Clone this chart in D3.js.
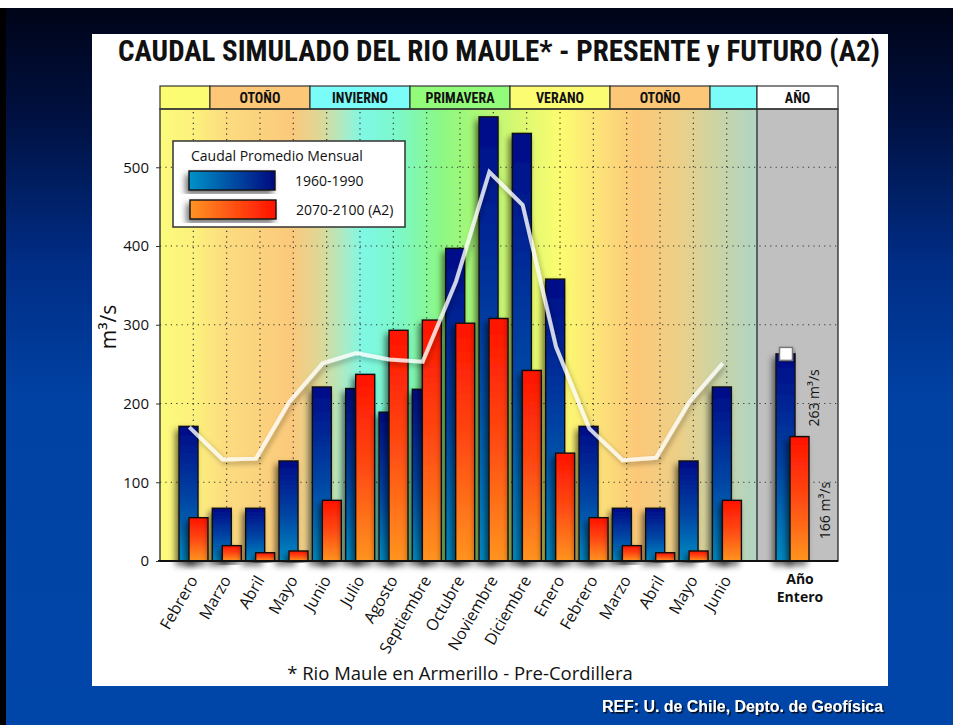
<!DOCTYPE html>
<html>
<head>
<meta charset="utf-8">
<script src="https://cdn.jsdelivr.net/npm/d3@7"></script>
<style>
  html, body { margin: 0; padding: 0; background: #fff; }
  svg { display: block; }
</style>
</head>
<body>
<svg id="chart" width="953" height="725"></svg>
<script>
(()=>{

//data
const months = ["Febrero","Marzo","Abril","Mayo","Junio","Julio","Agosto","Septiembre","Octubre","Noviembre","Diciembre","Enero","Febrero","Marzo","Abril","Mayo","Junio"];
const presente = [171,67,67,127,221,219,189,218,397,564,543,358,171,67,67,127,221];
const futuro = [55,19.5,10.5,12.7,77,237,293,306,302,308,242,137,55,19.5,10.5,12.7,77];
const promedio = [170,129,130,202,251,264,256,253,355,494,452,272,168,128,131,202,251];
const annual = [263, 158];
const annualLabels = ["263 m³/s", "166 m³/s"];
const yTicks = [0,100,200,300,400,500];
//season header: label and span in months (first/last index)
const seasons = [
	{label:"", from:0, to:0, color:"#fcfc72"},
	{label:"OTOÑO", from:1, to:3, color:"#fcc878"},
	{label:"INVIERNO", from:4, to:6, color:"#7afcf8"},
	{label:"PRIMAVERA", from:7, to:9, color:"#92fc7a"},
	{label:"VERANO", from:10, to:12, color:"#fcfc72"},
	{label:"OTOÑO", from:13, to:15, color:"#fcc878"},
	{label:"", from:16, to:16, color:"#7afcf8"}
];
const legendLabels = ["1960-1990", "2070-2100 (A2)"];

//background colour stops of the plot (offset along x)
const bgStops = [
	[0,"#fcfb7c"],[0.06,"#fcf07c"],[0.11,"#fcdc80"],[0.22,"#fbc97b"],[0.27,"#dcd898"],
	[0.31,"#a8ecc8"],[0.34,"#7ef8e4"],[0.40,"#7cf8c8"],[0.47,"#8cf884"],[0.52,"#a4f878"],
	[0.60,"#d8f870"],[0.67,"#fcfc70"],[0.74,"#fce078"],[0.80,"#fcc878"],[0.87,"#ecd088"],
	[0.94,"#c8d4a8"],[1,"#b0d4c4"]
];

let svg = d3.select("#chart"),
	W = +svg.attr("width"),
	H = +svg.attr("height");

const plot = {left:160, right:757, yearRight:838, top:109, bottom:561, headTop:86};
const sans = "'Open Sans', 'Noto Sans', sans-serif";
const narrow = "'Liberation Sans Narrow', 'Roboto Condensed', 'DejaVu Sans Condensed', 'Liberation Sans', sans-serif";

let x = d3.scalePoint().domain(d3.range(months.length)).range([193.3, 726.7]);
let step = x.step();
let y = d3.scaleLinear().domain([0, 574]).range([plot.bottom, plot.top]);
const yearX = 792;

let defs = svg.append("defs");

//slide background
let slide = defs.append("linearGradient").attr("id","slide").attr("x1",0).attr("y1",0).attr("x2",0).attr("y2",1);
[[0,"#000418"],[0.15,"#001040"],[0.35,"#002c84"],[0.55,"#0042a4"],[1,"#0046a8"]].forEach(s=>{
	slide.append("stop").attr("offset",s[0]).attr("stop-color",s[1]);
});
let bg = defs.append("linearGradient").attr("id","bg").attr("x1",0).attr("y1",0).attr("x2",1).attr("y2",0);
bgStops.forEach(s=>{ bg.append("stop").attr("offset",s[0]).attr("stop-color",s[1]); });

function grad(id, vertical, stops){
	let g = defs.append("linearGradient").attr("id",id)
		.attr("x1",0).attr("y1",vertical?1:0).attr("x2",vertical?0:1).attr("y2",0);
	stops.forEach(s=>{ g.append("stop").attr("offset",s[0]).attr("stop-color",s[1]); });
}
grad("blueV", true, [[0,"#008cc4"],[0.45,"#0046a4"],[1,"#000a88"]]);
grad("redV", true, [[0,"#ff9420"],[0.5,"#ff4a12"],[1,"#ff1200"]]);
grad("blueH", false, [[0,"#0092c8"],[1,"#000a80"]]);
grad("redH", false, [[0,"#ff9424"],[1,"#ff1000"]]);

let shadow = defs.append("filter").attr("id","shadow").attr("x","-60%").attr("y","-20%").attr("width","220%").attr("height","140%");
shadow.append("feDropShadow").attr("dx",-3).attr("dy",4).attr("stdDeviation",3).attr("flood-color","#000").attr("flood-opacity",0.55);
let soft = defs.append("filter").attr("id","soft").attr("x","-20%").attr("y","-20%").attr("width","140%").attr("height","140%");
soft.append("feDropShadow").attr("dx",2).attr("dy",3).attr("stdDeviation",2.5).attr("flood-color","#000").attr("flood-opacity",0.35);
let txtShadow = defs.append("filter").attr("id","txtShadow");
txtShadow.append("feDropShadow").attr("dx",1.5).attr("dy",1.5).attr("stdDeviation",0.6).attr("flood-color","#000").attr("flood-opacity",0.9);

svg.append("rect").attr("width",W).attr("height",H).attr("fill","#fff");
svg.append("rect").attr("x",0).attr("y",8).attr("width",W).attr("height",H-8).attr("fill","#000");
svg.append("rect").attr("x",6).attr("y",8).attr("width",W-6).attr("height",H-8).attr("fill","url(#slide)");
svg.append("rect").attr("x",92).attr("y",34).attr("width",796).attr("height",652).attr("fill","#fff");

//title
svg.append("text")
	.attr("x",118).attr("y",61)
	.attr("textLength",762).attr("lengthAdjust","spacingAndGlyphs")
	.style("font-family",narrow).style("font-weight","bold").style("font-size","30px")
	.attr("fill","#111")
	.text("CAUDAL SIMULADO DEL RIO MAULE* - PRESENTE y FUTURO (A2)");

//plot backgrounds
svg.append("rect").attr("x",plot.left).attr("y",plot.top)
	.attr("width",plot.right-plot.left).attr("height",plot.bottom-plot.top).attr("fill","url(#bg)");
svg.append("rect").attr("x",plot.right).attr("y",plot.top)
	.attr("width",plot.yearRight-plot.right).attr("height",plot.bottom-plot.top).attr("fill","#c0c0c0");

//season header
let edge = i => x(i) - step/2;
let head = svg.append("g");
head.selectAll(".season")
	.data(seasons)
	.enter().append("rect")
	.attr("class","season")
	.attr("x", d => d.from===0 ? plot.left : edge(d.from))
	.attr("y", plot.headTop)
	.attr("width", d => (d.to===months.length-1 ? plot.right : edge(d.to+1)) - (d.from===0 ? plot.left : edge(d.from)))
	.attr("height", plot.top-plot.headTop)
	.attr("fill", d => d.color)
	.attr("stroke","#333").attr("stroke-width",1.2);
head.append("rect").attr("x",plot.right).attr("y",plot.headTop)
	.attr("width",plot.yearRight-plot.right).attr("height",plot.top-plot.headTop)
	.attr("fill","#fff").attr("stroke","#333").attr("stroke-width",1.2);
head.selectAll(".slabel")
	.data(seasons.filter(d=>d.label))
	.enter().append("text")
	.attr("class","slabel")
	.attr("x", d => (x(d.from)+x(d.to))/2)
	.attr("y", plot.headTop+16.5)
	.attr("text-anchor","middle")
	.style("font-family",narrow).style("font-weight","bold").style("font-size","14px")
	.attr("fill","#111")
	.text(d => d.label);
head.append("text")
	.attr("x",(plot.right+plot.yearRight)/2).attr("y",plot.headTop+16.5)
	.attr("text-anchor","middle")
	.style("font-family",narrow).style("font-weight","bold").style("font-size","14px")
	.attr("fill","#111").text("AÑO");

//dotted grid
let grid = svg.append("g").attr("stroke","#333").attr("stroke-width",1.2).attr("stroke-dasharray","1.2,4.2");
grid.selectAll(".hgrid")
	.data(yTicks.slice(1))
	.enter().append("line")
	.attr("class","hgrid")
	.attr("x1",plot.left).attr("x2",plot.yearRight)
	.attr("y1", d => y(d)).attr("y2", d => y(d));
grid.selectAll(".vgrid")
	.data(d3.range(months.length))
	.enter().append("line")
	.attr("class","vgrid")
	.attr("x1", d => x(d)).attr("x2", d => x(d))
	.attr("y1",plot.top+3).attr("y2",plot.bottom);

//bars
const bw = 19;
let bars = svg.append("g");
months.forEach((m,i)=>{
	bars.append("rect")
		.attr("x", x(i)-14.3).attr("y", y(presente[i]))
		.attr("width", bw).attr("height", y(0)-y(presente[i]))
		.attr("fill","url(#blueV)").attr("stroke","#111").attr("stroke-width",1.4)
		.attr("filter","url(#shadow)");
	bars.append("rect")
		.attr("x", x(i)-4.3).attr("y", y(futuro[i]))
		.attr("width", bw).attr("height", y(0)-y(futuro[i]))
		.attr("fill","url(#redV)").attr("stroke","#111").attr("stroke-width",1.4)
		.attr("filter","url(#shadow)");
});
//annual bars
bars.append("rect")
	.attr("x", yearX-16).attr("y", y(annual[0]))
	.attr("width", bw).attr("height", y(0)-y(annual[0]))
	.attr("fill","url(#blueV)").attr("stroke","#111").attr("stroke-width",1.4)
	.attr("filter","url(#shadow)");
bars.append("rect")
	.attr("x", yearX-2).attr("y", y(annual[1]))
	.attr("width", bw).attr("height", y(0)-y(annual[1]))
	.attr("fill","url(#redV)").attr("stroke","#111").attr("stroke-width",1.4)
	.attr("filter","url(#shadow)");

//mean line
let line = d3.line().x((d,i)=>x(i)-4).y(d=>y(d));
svg.append("path")
	.datum(promedio)
	.attr("d", line)
	.attr("fill","none")
	.attr("stroke","#fff").attr("stroke-opacity",0.8).attr("stroke-width",4)
	.attr("stroke-linejoin","miter")
	.attr("filter","url(#soft)");

//annual marker
svg.append("rect")
	.attr("x", yearX-12.5).attr("y", y(annual[0])-6.5)
	.attr("width",13).attr("height",13)
	.attr("fill","#fff").attr("stroke","#777").attr("stroke-width",1.5)
	.attr("filter","url(#soft)");

//annual labels
svg.append("text")
	.attr("transform",`translate(${yearX+27},${y(annual[0])+44}) rotate(-90)`)
	.attr("text-anchor","middle")
	.style("font-family",sans).style("font-size","14px").attr("fill","#111")
	.text(annualLabels[0]);
svg.append("text")
	.attr("transform",`translate(${yearX+38},${y(annual[1])+74}) rotate(-90)`)
	.attr("text-anchor","middle")
	.style("font-family",sans).style("font-size","14px").attr("fill","#111")
	.text(annualLabels[1]);

//frame
let frame = svg.append("g").attr("fill","none").attr("stroke","#333");
frame.append("rect").attr("x",plot.left).attr("y",plot.top)
	.attr("width",plot.yearRight-plot.left).attr("height",plot.bottom-plot.top).attr("stroke-width",1.4);
frame.append("line").attr("x1",plot.right).attr("x2",plot.right)
	.attr("y1",plot.top).attr("y2",plot.bottom).attr("stroke-width",1.4);
frame.append("line").attr("x1",plot.left-2).attr("x2",plot.yearRight)
	.attr("y1",plot.bottom).attr("y2",plot.bottom).attr("stroke","#111").attr("stroke-width",2.2);

//y axis
let yAxis = svg.append("g")
	.attr("transform",`translate(${plot.left},0)`)
	.call(d3.axisLeft(y).tickValues(yTicks).tickSize(4).tickPadding(7));
yAxis.select(".domain").remove();
yAxis.selectAll("line").attr("stroke","#333");
yAxis.selectAll("text").style("font-family",sans).style("font-size","15px").attr("fill","#111");

svg.append("text")
	.attr("transform","translate(116,327) rotate(-90)")
	.attr("text-anchor","middle")
	.style("font-family",sans).style("font-size","21px").attr("fill","#111")
	.text("m³/s");

//x labels
svg.selectAll(".xlabel")
	.data(months)
	.enter().append("text")
	.attr("class","xlabel")
	.attr("transform",(d,i)=>`translate(${x(i)+5},${plot.bottom+19}) rotate(-60)`)
	.attr("text-anchor","end")
	.style("font-family",sans).style("font-size","16px").attr("fill","#111")
	.text(d => d);
svg.selectAll(".ylabel")
	.data(["Año","Entero"])
	.enter().append("text")
	.attr("class","ylabel")
	.attr("x", yearX+8).attr("y",(d,i)=>plot.bottom+23+i*18)
	.attr("text-anchor","middle")
	.style("font-family",sans).style("font-weight","bold").style("font-size","14px").attr("fill","#111")
	.text(d => d);

//legend
let lg = svg.append("g").attr("transform","translate(173,141)");
lg.append("rect").attr("width",232).attr("height",86).attr("fill","#fff").attr("stroke","#333").attr("stroke-width",1.5);
lg.append("text").attr("x",18).attr("y",20)
	.style("font-family",sans).style("font-size","14px").attr("fill","#111")
	.text("Caudal Promedio Mensual");
lg.selectAll(".sw")
	.data(legendLabels)
	.enter().append("rect")
	.attr("class","sw")
	.attr("x",(d,i)=>16+i).attr("y",(d,i)=>30+i*29)
	.attr("width",86).attr("height",19)
	.attr("fill",(d,i)=> i ? "url(#redH)" : "url(#blueH)")
	.attr("stroke","#111").attr("stroke-width",1.4)
	.attr("filter","url(#shadow)");
lg.selectAll(".lt")
	.data(legendLabels)
	.enter().append("text")
	.attr("class","lt")
	.attr("x",(d,i)=>122+i).attr("y",(d,i)=>45+i*29)
	.style("font-family",sans).style("font-size","14px").attr("fill","#111")
	.text(d => d);

//footnote
svg.append("text")
	.attr("x",460).attr("y",680)
	.attr("text-anchor","middle")
	.style("font-family",sans).style("font-size","18.5px").attr("fill","#111")
	.text("* Rio Maule en Armerillo - Pre-Cordillera");

//reference
svg.append("text")
	.attr("x",602).attr("y",712)
	.attr("textLength",281).attr("lengthAdjust","spacingAndGlyphs")
	.style("font-family","'Liberation Sans', Arial, sans-serif").style("font-weight","bold").style("font-size","16px")
	.attr("fill","#fff").attr("filter","url(#txtShadow)")
	.text("REF: U. de Chile, Depto. de Geofísica");

})();
</script>
</body>
</html>
